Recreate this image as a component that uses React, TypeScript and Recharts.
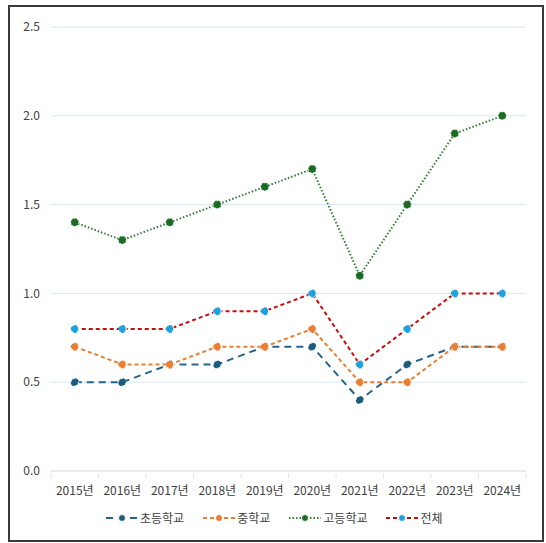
import React from 'react';
import { LineChart, Line, XAxis, YAxis, CartesianGrid } from 'recharts';

// 연도별 비율 (단위: %)
const years = ['2015년', '2016년', '2017년', '2018년', '2019년', '2020년', '2021년', '2022년', '2023년', '2024년'];
const elementary = [0.5, 0.5, 0.6, 0.6, 0.7, 0.7, 0.4, 0.6, 0.7, 0.7];
const middle = [0.7, 0.6, 0.6, 0.7, 0.7, 0.8, 0.5, 0.5, 0.7, 0.7];
const high = [1.4, 1.3, 1.4, 1.5, 1.6, 1.7, 1.1, 1.5, 1.9, 2.0];
const total = [0.8, 0.8, 0.8, 0.9, 0.9, 1.0, 0.6, 0.8, 1.0, 1.0];
const yTicks = [0, 0.5, 1.0, 1.5, 2.0, 2.5];

const W = 546;
const H = 543;
const M = { top: 27, right: 20, bottom: 42, left: 10 };
const Y_AXIS_W = 41;
const PLOT_W = W - M.left - M.right - Y_AXIS_W;
const FONT = '"Noto Sans CJK KR", "Noto Sans", sans-serif';
const GRID = '#dae6f3';

const series = [
  { key: 'elementary', name: '초등학교', stroke: '#236689', dot: '#1d5b7c', dash: '7 5' },
  { key: 'middle', name: '중학교', stroke: '#ed7d31', dot: '#ed7d31', dash: '4 3' },
  { key: 'high', name: '고등학교', stroke: '#2f7d36', dot: '#1c6b23', dash: '1.5 2' },
  { key: 'total', name: '전체', stroke: '#cc0a0a', dot: '#1ea2de', dash: '4 3' },
];

const data = years.map((year, i) => ({
  year,
  elementary: elementary[i],
  middle: middle[i],
  high: high[i],
  total: total[i],
}));

// 눈금선은 범주 경계에, 라벨은 범주 가운데에
const YearTick = ({ x, y, payload, index }: any) => {
  const bw = PLOT_W / years.length;
  return (
    <g>
      <line x1={x - bw / 2} y1={y} x2={x - bw / 2} y2={y + 5} stroke={GRID} />
      {index === years.length - 1 && (
        <line x1={x + bw / 2} y1={y} x2={x + bw / 2} y2={y + 5} stroke={GRID} />
      )}
      <text x={x} y={y + 22} textAnchor="middle" fill="#404040" fontSize={12} fontFamily={FONT}>
        {payload.value}
      </text>
    </g>
  );
};

const LegendRow = () => (
  <div
    style={{
      position: 'absolute',
      left: 105,
      top: 509,
      display: 'flex',
      gap: 18,
      fontFamily: FONT,
      fontSize: 12,
      color: '#404040',
      alignItems: 'center',
    }}
  >
    {series.map(s => (
      <div key={s.key} style={{ display: 'flex', alignItems: 'center', gap: 1 }}>
        <svg width={34} height={16}>
          <line x1={1} y1={8} x2={33} y2={8} stroke={s.stroke} strokeWidth={2} strokeDasharray={s.dash} />
          <circle cx={17} cy={8} r={3.5} fill={s.dot} stroke="#fff" strokeWidth={1} />
        </svg>
        <span>{s.name}</span>
      </div>
    ))}
  </div>
);

export default function App() {
  return (
    <div style={{ position: 'absolute', left: 0, top: 0, width: W, height: H, background: '#fff' }}>
      <div
        style={{
          position: 'absolute',
          left: 8,
          top: 5,
          width: 536,
          height: 537,
          boxSizing: 'border-box',
          border: '2px solid #3a3a3a',
        }}
      />
      <div style={{ position: 'absolute', left: 0, top: 0 }}>
        <LineChart width={W} height={H} data={data} margin={M}>
          <CartesianGrid vertical={false} stroke={GRID} />
          <XAxis
            dataKey="year"
            scale="band"
            axisLine={{ stroke: GRID }}
            tickLine={false}
            tickSize={0}
            tick={<YearTick />}
            height={30}
            interval={0}
          />
          <YAxis
            width={Y_AXIS_W}
            domain={[0, 2.5]}
            ticks={yTicks}
            tickFormatter={(v: number) => v.toFixed(1)}
            axisLine={false}
            tickLine={false}
            tickSize={0}
            tickMargin={11}
            tick={{ fill: '#404040', fontSize: 12, fontFamily: FONT }}
          />
          {series.map(s => (
            <Line
              key={s.key}
              type="linear"
              dataKey={s.key}
              name={s.name}
              stroke={s.stroke}
              strokeWidth={2}
              strokeDasharray={s.dash}
              dot={{ r: 4, fill: s.dot, stroke: '#fff', strokeWidth: 1 }}
              activeDot={false}
              isAnimationActive={false}
            />
          ))}
        </LineChart>
      </div>
      <LegendRow />
    </div>
  );
}
